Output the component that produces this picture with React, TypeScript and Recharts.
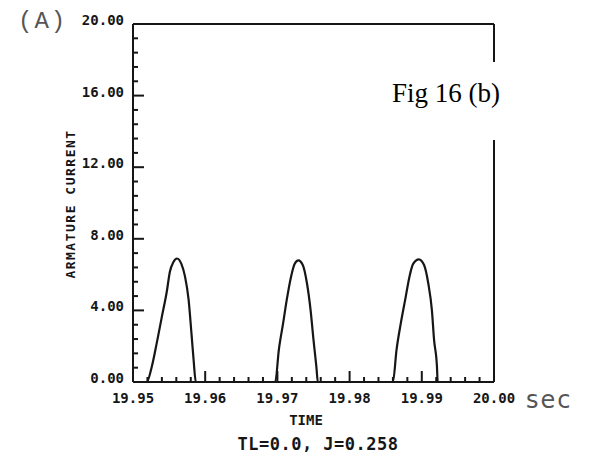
import React from "react";
import { LineChart, Line, XAxis, YAxis, ReferenceLine } from "recharts";

// time (s) and armature current (A)
const time = [
  19.95,
  19.9519, 19.9526, 19.9533, 19.954, 19.9547, 19.9551, 19.9556, 19.9561, 19.9567, 19.9572, 19.9577, 19.9581, 19.9584, 19.9587,
  19.9697, 19.9702, 19.9708, 19.9713, 19.9719, 19.9724, 19.9729, 19.9735, 19.9741, 19.9746, 19.975, 19.9754, 19.9756,
  19.986, 19.9865, 19.9871, 19.9877, 19.9883, 19.9888, 19.9896, 19.9903, 19.9909, 19.9914, 19.9917, 19.9921, 19.9922,
  20.0,
];
const current = [
  0,
  0, 0.85, 2.2, 3.65, 5.1, 6.15, 6.7, 6.9, 6.6, 5.9, 4.6, 2.7, 1.2, 0,
  0, 1.8, 3.3, 4.6, 5.9, 6.6, 6.8, 6.55, 5.5, 4.0, 2.35, 0.85, 0,
  0, 1.8, 3.3, 4.6, 5.9, 6.6, 6.85, 6.55, 5.5, 4.0, 2.35, 0.85, 0,
  0,
];

const xMajor = [19.95, 19.96, 19.97, 19.98, 19.99, 20.0];
const yMajor = [0, 4, 8, 12, 16, 20];
const minorDiv = 5;

const data = time.map((t, i) => ({ t, a: current[i] }));

const subdivide = (majors: number[]) => {
  const out: number[] = [];
  for (let i = 0; i < majors.length - 1; i++) {
    const step = (majors[i + 1] - majors[i]) / minorDiv;
    for (let k = 0; k < minorDiv; k++) out.push(majors[i] + k * step);
  }
  out.push(majors[majors.length - 1]);
  return out;
};
const xTicks = subdivide(xMajor);
const yTicks = subdivide(yMajor);

const isMajor = (v: number, majors: number[]) => majors.some((m) => Math.abs(m - v) < 1e-7);

const INK = "#161616";
const MONO = "'DejaVu Sans Mono', monospace";

const XTick = (props: any) => {
  const { x, y, payload } = props;
  const major = isMajor(payload.value, xMajor);
  return (
    <g>
      <line x1={x} x2={x} y1={y} y2={y - (major ? 11 : 5)} stroke={INK} strokeWidth={2} />
      {major && (
        <text x={x} y={y + 21} textAnchor="middle" fontFamily={MONO} fontWeight="bold" fontSize={14} fill={INK}>
          {payload.value.toFixed(2)}
        </text>
      )}
    </g>
  );
};

const YTick = (props: any) => {
  const { x, y, payload } = props;
  const major = isMajor(payload.value, yMajor);
  return (
    <g>
      <line x1={x} x2={x + (major ? 11 : 5)} y1={y} y2={y} stroke={INK} strokeWidth={2} />
      {major && (
        <text x={x - 9} y={y + 1} textAnchor="end" fontFamily={MONO} fontWeight="bold" fontSize={14} fill={INK}>
          {payload.value.toFixed(2)}
        </text>
      )}
    </g>
  );
};

export default function App() {
  return (
    <div style={{ position: "absolute", left: 0, top: 0, width: 603, height: 458, background: "#fff" }}>
      <LineChart width={603} height={458} data={data} margin={{ top: 24, right: 109, bottom: 46, left: 0 }}>
        <XAxis
          dataKey="t"
          type="number"
          domain={[19.95, 20.0]}
          ticks={xTicks}
          interval={0}
          tickSize={0}
          tickMargin={0}
          height={30}
          axisLine={{ stroke: INK, strokeWidth: 2 }}
          tickLine={false}
          tick={<XTick />}
          allowDataOverflow
        />
        <YAxis
          type="number"
          domain={[0, 20]}
          ticks={yTicks}
          interval={0}
          tickSize={0}
          tickMargin={0}
          width={133}
          axisLine={{ stroke: INK, strokeWidth: 2 }}
          tickLine={false}
          tick={<YTick />}
        />
        <ReferenceLine y={20} stroke={INK} strokeWidth={2} />
        <ReferenceLine x={20.0} stroke={INK} strokeWidth={2} />
        <Line type="monotone" dataKey="a" stroke={INK} strokeWidth={2.2} dot={false} isAnimationActive={false} />
      </LineChart>

      <div style={{ position: "absolute", left: 18, top: 8, fontFamily: "'Liberation Mono', monospace", fontSize: 24, color: "#555", letterSpacing: 2 }}>
        (A)
      </div>
      <div
        style={{
          position: "absolute",
          left: 70,
          top: 204,
          transform: "translate(-50%, -50%) rotate(-90deg)",
          whiteSpace: "nowrap",
          fontFamily: MONO,
          fontWeight: "bold",
          fontSize: 13,
          letterSpacing: 1.5,
          color: INK,
        }}
      >
        ARMATURE CURRENT
      </div>
      <div style={{ position: "absolute", left: 385, top: 62, width: 140, height: 78, background: "#fff" }} />
      <div
        style={{
          position: "absolute",
          left: 392,
          top: 80,
          lineHeight: "27px",
          whiteSpace: "nowrap",
          fontFamily: "'Liberation Serif', serif",
          fontSize: 27,
          color: "#000",
        }}
      >
        Fig 16 (b)
      </div>
      <div style={{ position: "absolute", left: 526, top: 386, fontFamily: "'DejaVu Sans', sans-serif", fontSize: 24, color: "#555", letterSpacing: 2 }}>
        sec
      </div>
      <div style={{ position: "absolute", left: 306, top: 412, transform: "translateX(-50%)", fontFamily: MONO, fontWeight: "bold", fontSize: 14, color: INK, whiteSpace: "nowrap" }}>
        TIME
      </div>
      <div style={{ position: "absolute", left: 318, top: 434, transform: "translateX(-50%)", fontFamily: MONO, fontWeight: "bold", fontSize: 17, letterSpacing: 0.5, color: INK, whiteSpace: "nowrap" }}>
        TL=0.0, J=0.258
      </div>
    </div>
  );
}
